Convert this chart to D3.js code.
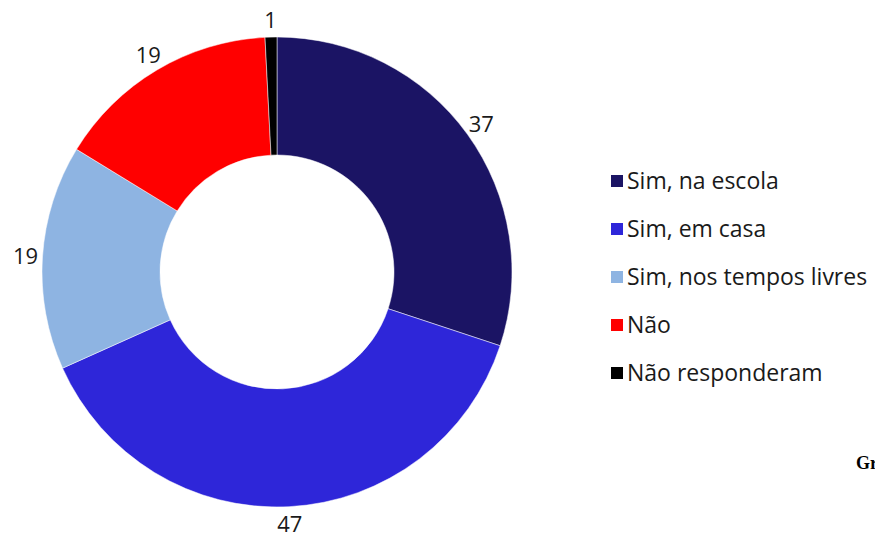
<!DOCTYPE html>
<html>
<head>
<meta charset="utf-8">
<script src="https://cdn.jsdelivr.net/npm/d3@7"></script>
<style>
  body { margin: 0; background: #fff; }
  svg { display: block; }
  .lbl, .legend text { font-family: "Open Sans", sans-serif; fill: #1a1a1a; }
</style>
</head>
<body>
<div id="chart"><svg width="875" height="535"></svg></div>
<script>
const categories = ['Sim, na escola', 'Sim, em casa', 'Sim, nos tempos livres', 'Não', 'Não responderam'];
const values = [37, 47, 19, 19, 1];
const colors = ['#1b1464', '#2e26d9', '#8eb4e2', '#ff0000', '#000000'];

const Donut = {
	cx: 277, cy: 272,
	outer: 235, inner: 117,
	labelR: 252,

	draw: function() {
		const self = this;
		var svg = d3.select('#chart > svg');
		var data = categories.map(function(c, i) { return { name: c, value: values[i], color: colors[i] }; });

		var pie = d3.pie().sort(null).value(function(d) { return d.value; });
		var arc = d3.arc().innerRadius(self.inner).outerRadius(self.outer);
		var labelArc = d3.arc().innerRadius(self.labelR).outerRadius(self.labelR);
		var arcs = pie(data);

		var g = svg.append('g')
			.attr('transform', 'translate(' + [ self.cx, self.cy ] + ')');

		g.selectAll('path.slice')
			.data(arcs)
			.enter().append('path')
			.attr('class', 'slice')
			.attr('d', arc)
			.style('fill', function(d) { return d.data.color; })
			.style('stroke', '#fff')
			.style('stroke-width', 0.5);

		// value labels
		g.selectAll('text.lbl')
			.data(arcs)
			.enter().append('text')
			.attr('class', 'lbl')
			.attr('transform', function(d) { return 'translate(' + labelArc.centroid(d) + ')'; })
			.attr('text-anchor', 'middle')
			.attr('dy', '0.36em')
			.style('font-size', '22px')
			.text(function(d) { return d.data.value; });

		// legend
		var legendY = d3.scalePoint().domain(categories).range([ 181, 373 ]);
		var legend = svg.append('g').attr('class', 'legend');
		var item = legend.selectAll('g')
			.data(data)
			.enter().append('g')
			.attr('transform', function(d) { return 'translate(611,' + legendY(d.name) + ')'; });
		item.append('rect')
			.attr('x', 0).attr('y', -6)
			.attr('width', 12).attr('height', 12)
			.style('fill', function(d) { return d.color; });
		item.append('text')
			.attr('x', 16)
			.attr('dy', '0.36em')
			.style('font-size', '23px')
			.text(function(d) { return d.name; });

		// caption, cut off by the page edge as in the original
		svg.append('text')
			.attr('x', 856).attr('y', 469)
			.style('font-family', '"Liberation Serif", serif')
			.style('font-weight', 'bold')
			.style('font-size', '18px')
			.style('fill', '#000')
			.text('Gr');
	}
};

Donut.draw();
</script>
</body>
</html>
